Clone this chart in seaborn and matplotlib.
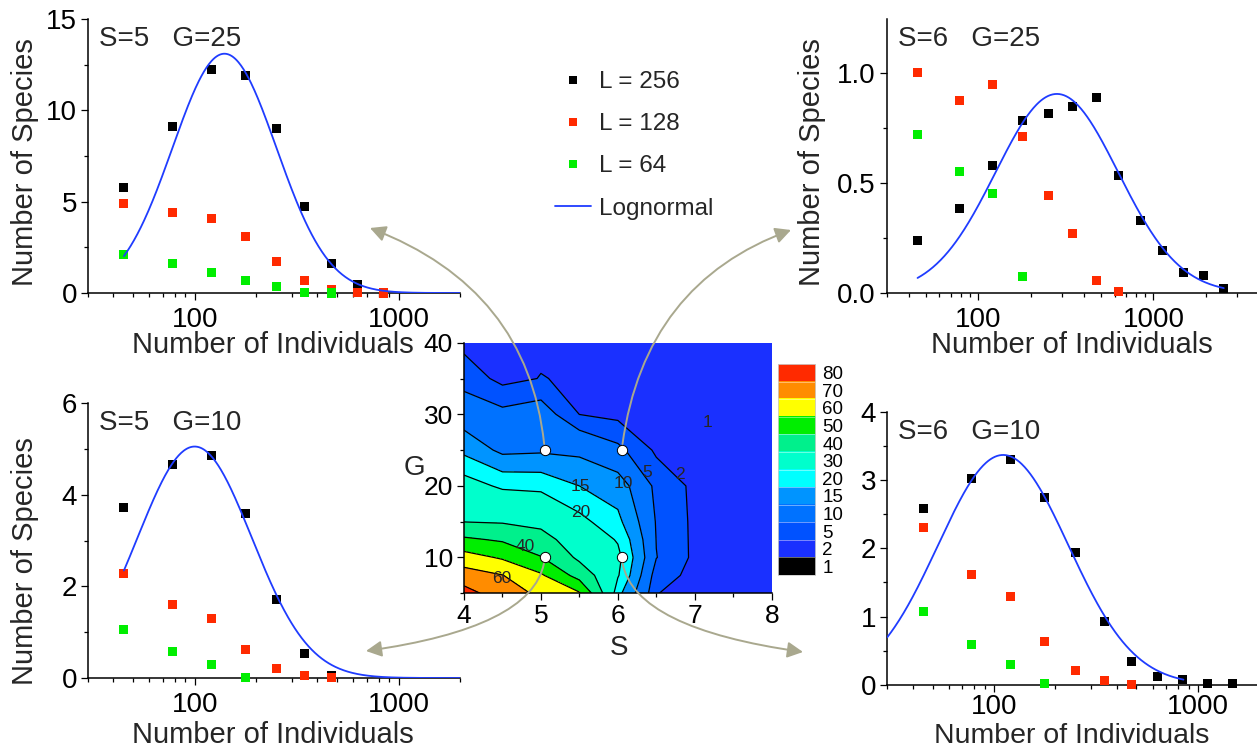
import numpy as np
import pandas as pd
import matplotlib
matplotlib.use("Agg")
import matplotlib.pyplot as plt
import matplotlib.transforms as mtransforms
from matplotlib.lines import Line2D
from matplotlib.patches import ConnectionPatch
from matplotlib.colors import ListedColormap
from matplotlib.ticker import LogLocator, NullFormatter, MultipleLocator, FixedLocator
import seaborn as sns

# ------------------------------------------------------------------ data
N_BINS = [45, 78, 121, 178, 251, 347, 471, 632, 843, 1120, 1480, 1930, 2520]

S5G25_L256 = [5.77, 9.14, 12.26, 11.90, 9.03, 4.73, 1.64, 0.44, 0.05]
S5G25_L128 = [4.89, 4.42, 4.09, 3.08, 1.75, 0.66, 0.20, 0.04, 0.00]
S5G25_L64 = [2.13, 1.64, 1.13, 0.71, 0.33, 0.05, 0.00]

S6G25_L256 = [0.24, 0.384, 0.581, 0.785, 0.819, 0.847, 0.888, 0.534, 0.332,
              0.194, 0.094, 0.079, 0.02]
S6G25_L128 = [1.005, 0.874, 0.947, 0.71, 0.446, 0.269, 0.055, 0.006]
S6G25_L64 = [0.721, 0.554, 0.451, 0.077]

S5G10_L256 = [3.72, 4.66, 4.85, 3.59, 1.72, 0.54, 0.06]
S5G10_L128 = [2.28, 1.61, 1.30, 0.63, 0.20, 0.06, 0.01]
S5G10_L64 = [1.06, 0.58, 0.30, 0.015]

S6G10_L256 = [2.58, 3.02, 3.30, 2.75, 1.94, 0.93, 0.34, 0.12, 0.07, 0.015, 0.015]
S6G10_L128 = [2.30, 1.62, 1.30, 0.63, 0.21, 0.06, 0.01]
S6G10_L64 = [1.07, 0.59, 0.30, 0.015]

# lognormal fit: amplitude, peak position, sigma (log10 units), drawn range
LOGN_S5G25 = (13.1, 140, 0.255, 45, 2000)
LOGN_S6G25 = (0.906, 281, 0.35, 45, 2520)
LOGN_S5G10 = (5.05, 100, 0.28, 45, 2000)
LOGN_S6G10 = (3.37, 111, 0.32, 30, 850)

SERIES_LABELS = ["L = 256", "L = 128", "L = 64"]
SERIES_COLORS = ["#000000", "#FF2A00", "#00EE00"]
CURVE_LABEL = "Lognormal"

# contour map: number of species vs S and G
S_GRID = [4.0, 4.5, 5.0, 5.5, 6.0, 6.5, 7.0, 7.5, 8.0]
G_GRID = [5, 7.5, 10, 12.5, 15, 20, 25, 30, 35, 40]
Z_S40 = [73.8, 64.7, 54.3, 41.6, 29.85, 22.7, 13.75, 7.05, 3.85, 1.15]
Z_S45 = [64.8, 60.3, 48.8, 38.8, 29.2, 19.0, 8.8, 5.97, 1.1, 1.05]
Z_S50 = [58.1, 51.35, 40.5, 33.4, 27.6, 18.5, 9.26, 6.94, 2.1, 1.4]
Z_S55 = [51.0, 36.2, 28.1, 24.9, 21.7, 15.0, 8.8, 1.97, 1.6, 1.4]
Z_S60 = [16.5, 20.5, 21.5, 19.5, 16.3, 12.5, 5.87, 1.2, 1.3, 1.3]
Z_S65 = [2.05, 3.0, 5.1, 4.9, 4.7, 4.0, 1.5, 1.4, 1.4, 1.4]
Z_S70 = [1.4] * 10
Z_S75 = [1.4] * 10
Z_S80 = [1.4] * 10

LEVELS = [0, 1, 2, 5, 10, 15, 20, 30, 40, 50, 60, 70, 80]
LEVEL_COLORS = ["#000000", "#1A30FF", "#0052FF", "#0072FF", "#0094FF", "#00FFFF",
                "#00FFCC", "#00F08C", "#00EE00", "#FFFF00", "#FF8C00", "#FF2A00"]
CBAR_LABELS = ["1", "2", "5", "10", "15", "20", "30", "40", "50", "60", "70", "80"]
LINE_LEVELS = [2, 5, 10, 15, 20, 30, 40, 50, 60, 70]
CLABEL_TEXT = ["1", "2", "5", "10", "15", "20", "40", "60"]
CLABEL_S = [7.16, 6.81, 6.38, 6.07, 5.51, 5.52, 4.79, 4.49]
CLABEL_G = [28.9, 21.6, 21.9, 20.3, 19.9, 16.3, 11.6, 7.1]

SEL_S = [5.05, 6.05, 5.05, 6.05]
SEL_G = [25, 25, 10, 10]

# ------------------------------------------------------------------ style
sns.set_style("ticks")
plt.rcParams["font.family"] = ["Liberation Sans", "DejaVu Sans"]
plt.rcParams["axes.linewidth"] = 1.1
plt.rcParams["xtick.major.width"] = 0.9
plt.rcParams["ytick.major.width"] = 0.9
plt.rcParams["xtick.minor.width"] = 0.9
plt.rcParams["ytick.minor.width"] = 0.9
plt.rcParams["xtick.color"] = "black"
plt.rcParams["ytick.color"] = "black"
plt.rcParams["axes.edgecolor"] = "black"

BLUE = "#1F3CFF"
ARROW = "#A9A88E"
W, H = 1257, 748
fig = plt.figure(figsize=(W / 100, H / 100), dpi=100)


def px_axes(left, top, right, bottom):
    return fig.add_axes([left / W, 1 - bottom / H, (right - left) / W, (bottom - top) / H])


def draw_panel(ax, series, logn, xlim, ylim, ymajor, yminor, yfmt, title,
               ylab_pos, xlab_pos, show_ylabel=True, xpad=5):
    frames = []
    for lab, vals in zip(SERIES_LABELS, series):
        frames.append(pd.DataFrame({"N": N_BINS[:len(vals)], "count": vals, "L": lab}))
    df = pd.concat(frames, ignore_index=True)
    sns.scatterplot(data=df, x="N", y="count", hue="L", hue_order=SERIES_LABELS,
                    palette=dict(zip(SERIES_LABELS, SERIES_COLORS)), marker="s", s=42,
                    linewidth=0, legend=False, ax=ax, clip_on=False, zorder=3)
    amp, peak, sig, c0, c1 = logn
    xs = np.logspace(np.log10(c0), np.log10(c1), 400)
    ys = amp * np.exp(-(np.log10(xs) - np.log10(peak)) ** 2 / (2 * sig ** 2))
    sns.lineplot(x=xs, y=ys, ax=ax, color=BLUE, lw=1.3, zorder=4, sort=False)
    ax.set_xscale("log")
    ax.set_xlim(*xlim)
    ax.set_ylim(*ylim)
    ax.set_xticks([100, 1000])
    ax.set_xticklabels(["100", "1000"])
    ax.xaxis.set_minor_locator(LogLocator(base=10, subs=np.arange(2, 10), numticks=30))
    ax.xaxis.set_minor_formatter(NullFormatter())
    ax.yaxis.set_major_locator(FixedLocator(ymajor))
    ax.yaxis.set_minor_locator(MultipleLocator(yminor))
    ax.set_yticklabels([yfmt.format(v) for v in ymajor])
    ax.tick_params(which="major", direction="out", length=5, labelsize=20, pad=3)
    ax.tick_params(which="minor", direction="out", length=2.7)
    ax.tick_params(axis="x", which="major", pad=xpad)
    for sp in ["top", "right"]:
        ax.spines[sp].set_visible(False)
    ax.set_xlabel("Number of Individuals", fontsize=21, va="center")
    ax.xaxis.set_label_coords(*xlab_pos)
    if show_ylabel:
        ax.set_ylabel("Number of Species", fontsize=21, va="center")
        ax.yaxis.set_label_coords(*ylab_pos)
    else:
        ax.set_ylabel("")
    ax.text(0.03, 0.927, title, transform=ax.transAxes, fontsize=20,
            ha="left", va="center")
    ax.patch.set_alpha(0)


ax_tl = px_axes(88, 19, 460, 293)
draw_panel(ax_tl, [S5G25_L256, S5G25_L128, S5G25_L64], LOGN_S5G25, (30, 2000),
           (0, 15), [0, 5, 10, 15], 2.5, "{:g}", "S=5   G=25",
           (-0.169, 0.479), (0.497, -0.19))

ax_tr = px_axes(886.7, 19, 1257, 293)
draw_panel(ax_tr, [S6G25_L256, S6G25_L128, S6G25_L64], LOGN_S6G25, (30, 3900),
           (0, 1.247), [0.0, 0.5, 1.0], 0.25, "{:.1f}", "S=6   G=25",
           (-0.2025, 0.478), (0.5, -0.19))

ax_bl = px_axes(88, 403, 460, 678)
draw_panel(ax_bl, [S5G10_L256, S5G10_L128, S5G10_L64], LOGN_S5G10, (30, 2000),
           (0, 6), [0, 2, 4, 6], 1, "{:g}", "S=5   G=10",
           (-0.169, 0.427), (0.497, -0.206))

ax_br = px_axes(887.3, 412, 1257, 684.7)
draw_panel(ax_br, [S6G10_L256, S6G10_L128, S6G10_L64], LOGN_S6G10, (30, 1950),
           (0, 4), [0, 1, 2, 3, 4], 0.5, "{:g}", "S=6   G=10",
           (-0.2, 0.5), (0.4996, -0.188), show_ylabel=False, xpad=2)
ax_br.xaxis.label.set_fontsize(20.5)

# ------------------------------------------------------------------ contour map
ax_c = px_axes(464, 342.7, 771.7, 593.3)
Z = np.array([Z_S40, Z_S45, Z_S50, Z_S55, Z_S60, Z_S65, Z_S70, Z_S75, Z_S80]).T
SS, GG = np.meshgrid(S_GRID, G_GRID)
ax_c.contourf(SS, GG, Z, levels=LEVELS, colors=LEVEL_COLORS, zorder=1)
ax_c.contour(SS, GG, Z, levels=LINE_LEVELS, colors="black", linewidths=0.9, zorder=2)
for t, s, g in zip(CLABEL_TEXT, CLABEL_S, CLABEL_G):
    ax_c.text(s, g, t, fontsize=12.5, ha="center", va="center", zorder=3)
ax_c.scatter(SEL_S, SEL_G, s=55, c="white", edgecolors="black", linewidths=0.7,
             zorder=6, clip_on=False)
ax_c.set_xlim(4, 8)
ax_c.set_ylim(5, 40)
ax_c.set_xticks([4, 5, 6, 7, 8])
ax_c.set_yticks([10, 20, 30, 40])
ax_c.xaxis.set_minor_locator(MultipleLocator(0.5))
ax_c.yaxis.set_minor_locator(MultipleLocator(5))
ax_c.tick_params(which="major", direction="out", length=5, labelsize=19, pad=3)
ax_c.tick_params(which="minor", direction="out", length=2.7)
for sp in ["top", "right"]:
    ax_c.spines[sp].set_visible(False)
ax_c.set_xlabel("S", fontsize=20, va="center")
ax_c.xaxis.set_label_coords(0.504, -0.218)
ax_c.set_ylabel("G", fontsize=20, rotation=0, va="center", ha="center")
ax_c.yaxis.set_label_coords(-0.162, 0.5)

# colour scale
cax = px_axes(777.5, 364, 815.3, 575)
cax.imshow(np.arange(len(LEVEL_COLORS))[:, None], cmap=ListedColormap(LEVEL_COLORS),
           aspect="auto", origin="lower", extent=(0, 1, 0, len(LEVEL_COLORS)),
           interpolation="nearest")
for k in range(1, len(LEVEL_COLORS)):
    cax.axhline(k, color="white", lw=0.5, alpha=0.6)
cax.set_xticks([])
cax.set_yticks(np.arange(len(CBAR_LABELS)) + 0.5)
cax.set_yticklabels(CBAR_LABELS)
cax.yaxis.tick_right()
cax.tick_params(axis="y", length=0, labelsize=13.5, pad=5)
for sp in cax.spines.values():
    sp.set_color("#CCCCCC")
    sp.set_linewidth(0.6)

# ------------------------------------------------------------------ legend
handles = [Line2D([0], [0], marker="s", ls="none", markerfacecolor=c,
                  markeredgewidth=0, markersize=5.5) for c in SERIES_COLORS]
handles.append(Line2D([0], [0], color=BLUE, lw=1.3))
fig.legend(handles, SERIES_LABELS + [CURVE_LABEL], loc="upper left",
           bbox_to_anchor=(555 / W, 1 - 71 / H), frameon=False, fontsize=17.5,
           handlelength=1.5, handletextpad=0.3, labelspacing=0.83,
           borderpad=0, borderaxespad=0)

# ------------------------------------------------------------------ arrows
pix = mtransforms.Affine2D().scale(1 / W, -1 / H).translate(0, 1) + fig.transFigure
ARROW_TARGETS = [(370, 228), (791, 230), (366, 651), (803, 652)]
ARROW_STYLES = ["angle3,angleA=95,angleB=-21", "angle3,angleA=83,angleB=20",
                "angle3,angleA=-95,angleB=8", "angle3,angleA=-85,angleB=-8"]
for s, g, tgt, cs in zip(SEL_S, SEL_G, ARROW_TARGETS, ARROW_STYLES):
    cp = ConnectionPatch(xyA=(s, g), coordsA=ax_c.transData, xyB=tgt, coordsB=pix,
                         arrowstyle="-|>,head_length=0.47,head_width=0.24",
                         connectionstyle=cs, color=ARROW, lw=1.4, mutation_scale=20,
                         shrinkA=4.5, shrinkB=0, zorder=5, clip_on=False)
    fig.add_artist(cp)

fig.savefig("out.png", dpi=100)
